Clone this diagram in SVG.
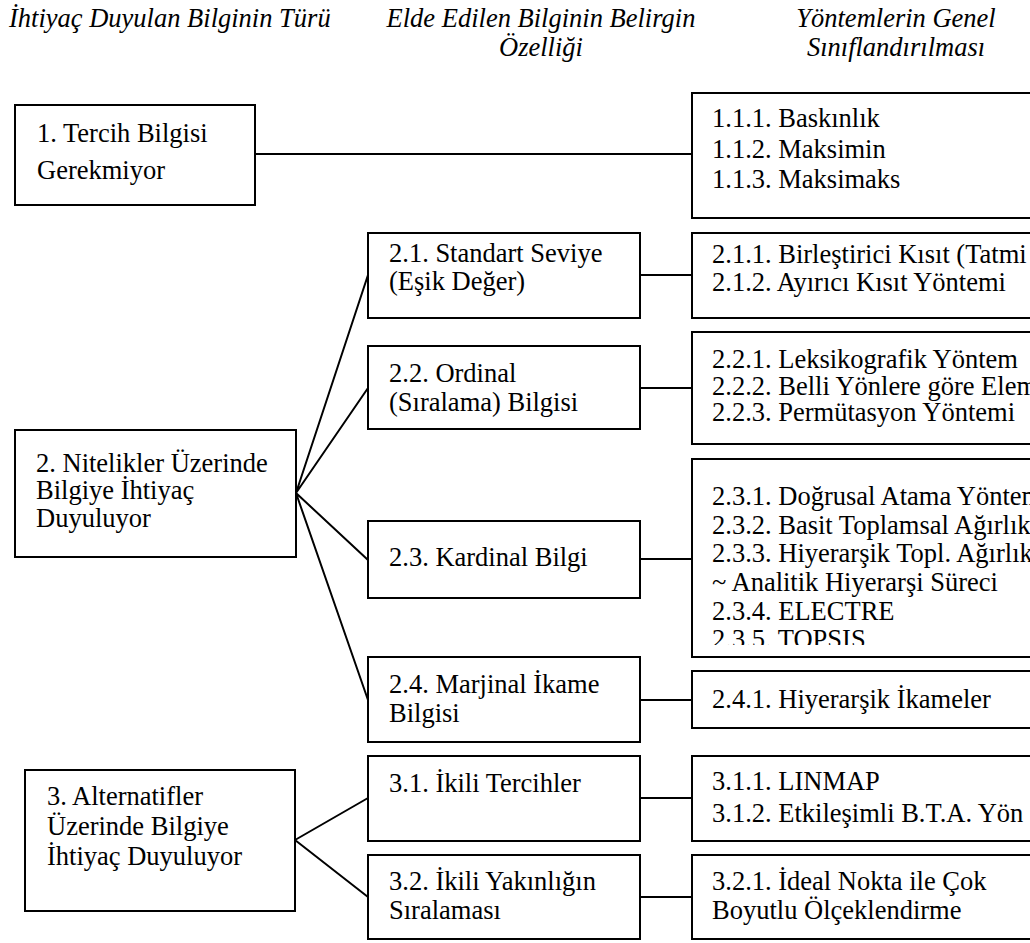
<svg xmlns="http://www.w3.org/2000/svg" width="1030" height="943" viewBox="0 0 1030 943">
  <defs>
    <style>
      .box{fill:#fff;stroke:#000;stroke-width:2}
      .t{font-family:"Liberation Serif","Times New Roman",serif;font-size:26.5px;fill:#000}
      .h{font-style:italic;text-anchor:middle}
      .link{stroke:#000;stroke-width:2;fill:none}
    </style>
    <clipPath id="clip-m23">
      <rect x="692" y="459" width="400" height="186"/>
    </clipPath>
  </defs>
  <rect width="1030" height="943" fill="#fff"/>

  <!-- column headings -->
  <g id="headings" class="t">
    <text x="9" y="27" style="font-style:italic">İhtiyaç Duyulan Bilginin Türü</text>
    <text class="h" x="541" y="27">Elde Edilen Bilginin Belirgin</text>
    <text class="h" x="541" y="56">Özelliği</text>
    <text class="h" x="896" y="27">Yöntemlerin Genel</text>
    <text class="h" x="896" y="56">Sınıflandırılması</text>
  </g>

  <!-- connectors -->
  <g id="connectors" class="link">
    <path d="M255 154H692"/>
    <path d="M296 493L368 275M296 493L368 388M296 493L368 560M296 493L368 700"/>
    <path d="M640 275H692M640 388H692M640 559H692M640 700H692"/>
    <path d="M295 840L368 798M295 840L368 897"/>
    <path d="M640 798H692M640 897H692"/>
  </g>

  <!-- type of information needed -->
  <g id="n1">
    <rect class="box" x="15" y="105" width="240" height="100"/>
    <text class="t" x="37" y="142">1. Tercih Bilgisi</text>
    <text class="t" x="37" y="179">Gerekmiyor</text>
  </g>
  <g id="n2">
    <rect class="box" x="15" y="430" width="281" height="127"/>
    <text class="t" x="36" y="472">2. Nitelikler Üzerinde</text>
    <text class="t" x="36" y="499">Bilgiye İhtiyaç</text>
    <text class="t" x="36" y="527">Duyuluyor</text>
  </g>
  <g id="n3">
    <rect class="box" x="25" y="770" width="270" height="141"/>
    <text class="t" x="47" y="805">3. Alternatifler</text>
    <text class="t" x="47" y="835">Üzerinde Bilgiye</text>
    <text class="t" x="47" y="865">İhtiyaç Duyuluyor</text>
  </g>

  <!-- characteristic of the information -->
  <g id="n2-1">
    <rect class="box" x="368" y="233" width="272" height="85"/>
    <text class="t" x="389" y="262">2.1. Standart Seviye</text>
    <text class="t" x="389" y="290">(Eşik Değer)</text>
  </g>
  <g id="n2-2">
    <rect class="box" x="368" y="346" width="272" height="83"/>
    <text class="t" x="389" y="382">2.2. Ordinal</text>
    <text class="t" x="389" y="411">(Sıralama) Bilgisi</text>
  </g>
  <g id="n2-3">
    <rect class="box" x="368" y="521" width="272" height="77"/>
    <text class="t" x="389" y="566">2.3. Kardinal Bilgi</text>
  </g>
  <g id="n2-4">
    <rect class="box" x="368" y="657" width="272" height="85"/>
    <text class="t" x="389" y="693">2.4. Marjinal İkame</text>
    <text class="t" x="389" y="722">Bilgisi</text>
  </g>
  <g id="n3-1">
    <rect class="box" x="368" y="756" width="272" height="85"/>
    <text class="t" x="389" y="792">3.1. İkili Tercihler</text>
  </g>
  <g id="n3-2">
    <rect class="box" x="368" y="855" width="272" height="84"/>
    <text class="t" x="389" y="890">3.2. İkili Yakınlığın</text>
    <text class="t" x="389" y="919">Sıralaması</text>
  </g>

  <!-- method classes -->
  <g id="m1-1">
    <rect class="box" x="692" y="93" width="400" height="125"/>
    <text class="t" x="712" y="127">1.1.1. Baskınlık</text>
    <text class="t" x="712" y="158">1.1.2. Maksimin</text>
    <text class="t" x="712" y="188">1.1.3. Maksimaks</text>
  </g>
  <g id="m2-1">
    <rect class="box" x="692" y="233" width="400" height="85"/>
    <text class="t" x="712" y="263">2.1.1. Birleştirici Kısıt (Tatmi</text>
    <text class="t" x="712" y="291">2.1.2. Ayırıcı Kısıt Yöntemi</text>
  </g>
  <g id="m2-2">
    <rect class="box" x="692" y="332" width="400" height="112"/>
    <text class="t" x="712" y="368">2.2.1. Leksikografik Yöntem</text>
    <text class="t" x="712" y="395">2.2.2. Belli Yönlere göre Elem</text>
    <text class="t" x="712" y="421">2.2.3. Permütasyon Yöntemi</text>
  </g>
  <g id="m2-3">
    <rect class="box" x="692" y="459" width="400" height="198"/>
    <g clip-path="url(#clip-m23)">
      <text class="t" x="712" y="505">2.3.1. Doğrusal Atama Yöntem</text>
      <text class="t" x="712" y="534">2.3.2. Basit Toplamsal Ağırlık</text>
      <text class="t" x="712" y="562">2.3.3. Hiyerarşik Topl. Ağırlık</text>
      <text class="t" x="712" y="591">~ Analitik Hiyerarşi Süreci</text>
      <text class="t" x="712" y="620">2.3.4. ELECTRE</text>
      <text class="t" x="712" y="648">2.3.5. TOPSIS</text>
    </g>
  </g>
  <g id="m2-4">
    <rect class="box" x="692" y="671" width="400" height="57"/>
    <text class="t" x="712" y="708">2.4.1. Hiyerarşik İkameler</text>
  </g>
  <g id="m3-1">
    <rect class="box" x="692" y="756" width="400" height="85"/>
    <text class="t" x="712" y="790">3.1.1. LINMAP</text>
    <text class="t" x="712" y="822">3.1.2. Etkileşimli B.T.A. Yön</text>
  </g>
  <g id="m3-2">
    <rect class="box" x="692" y="855" width="400" height="84"/>
    <text class="t" x="712" y="890">3.2.1. İdeal Nokta ile Çok</text>
    <text class="t" x="712" y="919">Boyutlu Ölçeklendirme</text>
  </g>
</svg>
